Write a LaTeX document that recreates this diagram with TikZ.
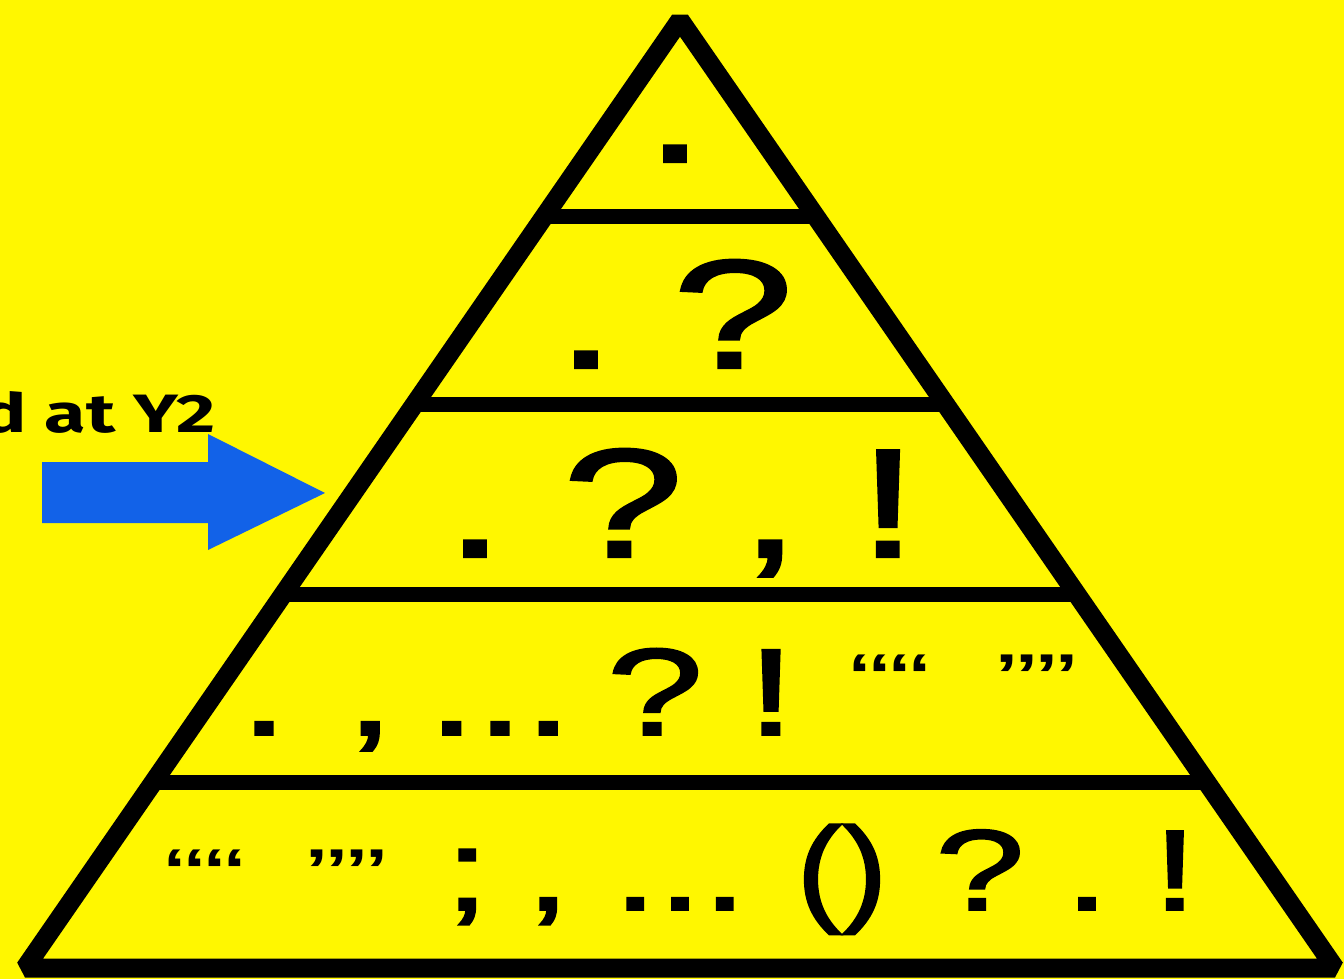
\documentclass[tikz,border=0pt]{standalone}
\usepackage{fontspec}
\setmainfont{Liberation Sans}
\newfontfamily\pfont[FakeBold=1.5]{Liberation Sans}
\newfontfamily\qfont{Liberation Sans}
\newfontfamily\labelfont{Fira Sans}
\usetikzlibrary{calc}
\definecolor{bg}{RGB}{255,247,0}
\definecolor{arrowblue}{RGB}{18,98,232}
\newcommand\punct[2]{\scalebox{1.4}[1]{\pfont\fontsize{#1}{#1}\selectfont #2}}
\newcommand\quot[1]{\scalebox{1.4}[1]{\qfont\fontsize{29.5pt}{29.5pt}\selectfont\bfseries #1}}
\tikzset{
  glyph/.style={inner sep=0pt, outer sep=0pt, anchor=base},
  edge/.style={line width=9.5pt, line join=bevel, draw=black},
  divider/.style={line width=7.5pt, draw=black},
}
\begin{document}
\begin{tikzpicture}[x=0.5pt, y=-0.5pt]
\fill[bg] (0,0) rectangle (1344,979);
\useasboundingbox (0,0) rectangle (1344,979);
% pyramid
\coordinate (A) at (680,20);
\coordinate (L) at (25,968);
\coordinate (R) at (1335,968);
\foreach \t/\n in {0.2078/1, 0.4061/2, 0.6055/3, 0.8038/4}{
  \coordinate (l\n) at ($(A)!\t!(L)$);
  \coordinate (r\n) at ($(A)!\t!(R)$);
  \draw[divider] (l\n) -- (r\n);
}
\draw[edge] (L) -- (A) -- (R) -- cycle;
% row 1
\node[glyph] (r1a) at (675,162) {\punct{77.5pt}{.}};
% row 2
\node[glyph] (r2a) at (586,368) {\punct{77.5pt}{.}};
\node[glyph] (r2b) at (733,368) {\punct{77.5pt}{?}};
% row 3
\node[glyph] (r3a) at (475,557) {\punct{77.5pt}{.}};
\node[glyph] (r3b) at (623,557) {\punct{77.5pt}{?}};
\node[glyph] (r3c) at (770,557) {\punct{77.5pt}{,}};
\node[glyph] (r3d) at (888,557) {\punct{77.5pt}{!}};
% row 4
\node[glyph] (r4a) at (264,735) {\punct{62pt}{.}};
\node[glyph] (r4b) at (370,735) {\punct{62pt}{,}};
\node[glyph] (r4c) at (500,735) {\punct{62pt}{...}};
\node[glyph] (r4d) at (655,735) {\punct{62pt}{?}};
\node[glyph] (r4e) at (771,735) {\punct{62pt}{!}};
\node[glyph] (r4f) at (890,695) {\quot{‘‘‘‘}};
\node[glyph] (r4g) at (1037,695) {\quot{’’’’}};
% row 5
\node[glyph] (r5a) at (205,890) {\quot{‘‘‘‘}};
\node[glyph] (r5b) at (347,890) {\quot{’’’’}};
\node[glyph] (r5c) at (467,910) {\punct{57.5pt}{;}};
\node[glyph] (r5d) at (548,910) {\punct{57.5pt}{,}};
\node[glyph] (r5e) at (680,910) {\punct{57.5pt}{...}};
\node[glyph] (r5f) at (842,910) {\scalebox{0.85}[1.03]{\punct{57.5pt}{()}}};
\node[glyph] (r5g) at (980,910) {\punct{57.5pt}{?}};
\node[glyph] (r5h) at (1087,910) {\punct{57.5pt}{.}};
\node[glyph] (r5i) at (1175,910) {\punct{57.5pt}{!}};
% label and arrow
\node[inner sep=0pt, anchor=base east] (lab) at (216,432)
  {\labelfont\bfseries\scalebox{1.4}[1]{\fontsize{27pt}{27pt}\selectfont d at Y2}};
\fill[arrowblue] (42,462) -- (208,462) -- (208,434) -- (325,493)
  -- (208,550) -- (208,523) -- (42,523) -- cycle;
\end{tikzpicture}
\end{document}
